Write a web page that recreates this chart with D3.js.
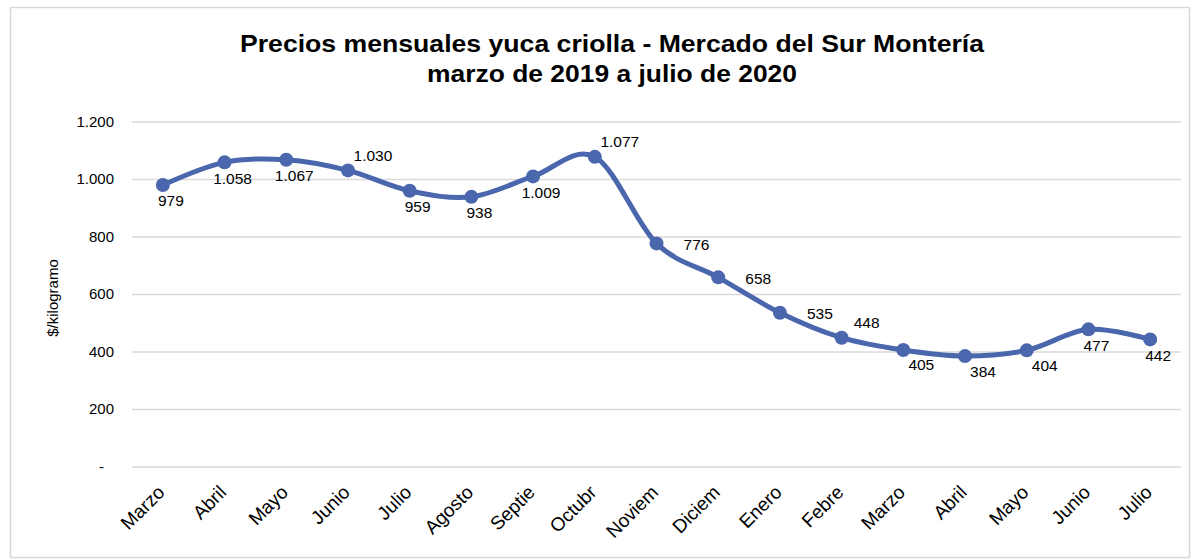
<!DOCTYPE html>
<html>
<head>
<meta charset="utf-8">
<script src="https://cdn.jsdelivr.net/npm/d3@7"></script>
<style>
  body { margin: 0; background: #fff; }
  text { font-family: "Liberation Sans", Arial, sans-serif; fill: #000; }
</style>
</head>
<body>
<div id="chart"></div>
<script>
// ============
// Data
// ============
var months = ["Marzo", "Abril", "Mayo", "Junio", "Julio", "Agosto", "Septie", "Octubr",
  "Noviem", "Diciem", "Enero", "Febre", "Marzo", "Abril", "Mayo", "Junio", "Julio"];
var prices = [979, 1058, 1067, 1030, 959, 938, 1009, 1077, 776, 658, 535, 448, 405, 384, 404, 477, 442];
// where Excel put each data label
var labelPlace = ["below", "below", "below", "aboveRight", "below", "below", "below", "aboveRight",
  "right", "right", "right", "aboveRight", "belowRight", "belowRight", "belowRight", "below", "below"];
var yTicks = [0, 200, 400, 600, 800, 1000, 1200];
var titleLines = ["Precios mensuales yuca criolla - Mercado del Sur Montería", "marzo de 2019 a julio de 2020"];

// ============
// Set up of the svg
// ============
var svgWidth = 1197;
var svgHeight = 560;

var plot = { left: 132, right: 1181, top: 121.5, bottom: 466.5 };
var lineColor = "#4a66ac";

var svg = d3.select("#chart")
  .append("svg")
  .attr("width", svgWidth)
  .attr("height", svgHeight);

// chart border
svg.append("rect")
  .attr("x", 10.5)
  .attr("y", 7.5)
  .attr("width", 1179)
  .attr("height", 550)
  .attr("fill", "#fff")
  .attr("stroke", "#d9d9d9")
  .attr("stroke-width", 1.5);

// title (condensed, like the original)
svg.append("text")
  .attr("x", 612)
  .attr("y", 52)
  .attr("text-anchor", "middle")
  .attr("font-weight", "bold")
  .attr("font-size", 23.5)
  .attr("textLength", 744)
  .attr("lengthAdjust", "spacingAndGlyphs")
  .text(titleLines[0]);

svg.append("text")
  .attr("x", 612)
  .attr("y", 82)
  .attr("text-anchor", "middle")
  .attr("font-weight", "bold")
  .attr("font-size", 23.5)
  .attr("textLength", 370)
  .attr("lengthAdjust", "spacingAndGlyphs")
  .text(titleLines[1]);

// ============
// Scales and axes
// ============
var xScale = d3.scaleBand()
  .domain(d3.range(months.length))
  .range([plot.left, plot.right]);

var xCenter = i => xScale(i) + xScale.bandwidth() / 2;

var yScale = d3.scaleLinear()
  .domain([0, 1200])
  .range([plot.bottom, plot.top]);

var fmt = d3.formatLocale({ decimal: ",", thousands: ".", grouping: [3], currency: ["$", ""] }).format(",");

var yAxis = svg.append("g")
  .attr("transform", `translate(${plot.left}, 0)`)
  .call(d3.axisLeft(yScale)
    .tickValues(yTicks)
    .tickSize(-(plot.right - plot.left))
    .tickPadding(18)
    .tickFormat(d => d === 0 ? "-" : fmt(d)));

yAxis.select(".domain").remove();
yAxis.selectAll(".tick line")
  .attr("stroke", "#d9d9d9")
  .attr("stroke-width", 1.5);
yAxis.selectAll(".tick text")
  .attr("font-size", 15)
  .attr("font-family", "Liberation Sans, Arial, sans-serif")
  .attr("dx", d => d === 0 ? -10 : 0);

// y axis title
svg.append("text")
  .attr("transform", `translate(58, ${(plot.top + plot.bottom) / 2 + 4}) rotate(-90)`)
  .attr("text-anchor", "middle")
  .attr("font-size", 15)
  .text("$/kilogramo");

// x axis labels
var xAxis = svg.append("g")
  .attr("transform", `translate(0, ${plot.bottom})`)
  .call(d3.axisBottom(xScale).tickSize(0).tickFormat(i => months[i]));

xAxis.select(".domain").remove();
xAxis.selectAll(".tick text")
  .attr("font-size", 19)
  .attr("font-family", "Liberation Sans, Arial, sans-serif")
  .attr("text-anchor", "end")
  .attr("dy", 0)
  .attr("y", 0)
  .attr("transform", "translate(3, 27) rotate(-45)");

// ============
// Line, markers and labels
// ============
var line = d3.line()
  .x((d, i) => xCenter(i))
  .y(d => yScale(d))
  .curve(d3.curveCatmullRom.alpha(0));

svg.append("path")
  .datum(prices)
  .attr("d", line)
  .attr("fill", "none")
  .attr("stroke", lineColor)
  .attr("stroke-width", 5)
  .attr("stroke-linejoin", "round");

svg.selectAll("circle.pt")
  .data(prices)
  .enter()
  .append("circle")
  .attr("class", "pt")
  .attr("cx", (d, i) => xCenter(i))
  .attr("cy", d => yScale(d))
  .attr("r", 7)
  .attr("fill", lineColor);

var offsets = {
  below: [8, 16],
  right: [40, 1],
  aboveRight: [25, -15],
  belowRight: [18, 15]
};

svg.selectAll("text.lbl")
  .data(prices)
  .enter()
  .append("text")
  .attr("class", "lbl")
  .attr("x", (d, i) => xCenter(i) + offsets[labelPlace[i]][0])
  .attr("y", (d, i) => yScale(d) + offsets[labelPlace[i]][1])
  .attr("dy", "0.35em")
  .attr("text-anchor", "middle")
  .attr("font-size", 15.5)
  .text(d => fmt(d));
</script>
</body>
</html>
